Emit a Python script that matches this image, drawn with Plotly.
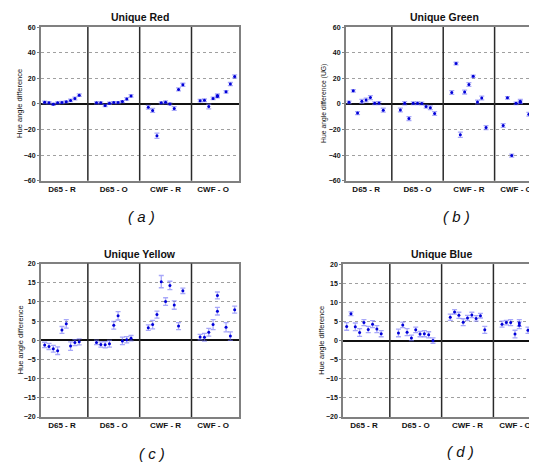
import plotly.graph_objects as go

# ---------------- data ----------------
GROUPS = ["D65 - R", "D65 - O", "CWF - R", "CWF - O"]
GROUP_TICKS = [4, 16, 28, 39]          # label positions on the index axis
GROUP_STEP = 12                         # index offset between groups
SLOTS = [
    [0, 1, 2, 3, 4, 5, 6, 7, 8],
    [0, 1, 2, 3, 4, 5, 6, 7, 8],
    [0, 1, 2, 3, 4, 5, 6, 7, 8],
    [0, 1, 2, 3, 4, 4, 6, 7, 8],
]
DIVIDERS = [10, 22, 34]

RED = [
    [1.2, 0.9, -0.3, 0.8, 1.1, 1.6, 2.7, 4.2, 6.8],
    [0.8, 0.8, -1.3, 0.5, 1.0, 1.0, 1.8, 3.9, 6.2],
    [-2.6, -5.1, -24.9, 0.8, 1.3, 0.0, -3.6, 11.3, 14.9],
    [2.5, 2.8, -2.1, 4.3, 6.6, 5.8, 9.4, 15.5, 21.4],
]
RED_ERR = [
    [1.0, 0.8, 0.8, 0.8, 0.8, 0.8, 1.0, 1.0, 1.0],
    [0.8, 0.8, 0.8, 0.8, 0.8, 0.8, 0.8, 1.0, 1.0],
    [1.5, 1.5, 2.0, 0.8, 1.0, 0.8, 1.5, 1.2, 1.2],
    [1.0, 1.0, 1.8, 1.0, 1.2, 1.0, 1.0, 1.2, 1.2],
]
GREEN = [
    [1.2, 10.2, -7.2, 2.0, 3.0, 4.9, 0.5, 0.6, -4.9],
    [-4.8, 0.5, -11.5, 0.5, 0.5, 0.3, -2.1, -3.0, -7.5],
    [8.9, 31.5, -24.1, 9.2, 15.1, 21.5, 1.5, 4.6, -18.5],
    [-16.9, 4.7, -40.4, 0.4, 1.3, 2.0, -8.1, -10.5, -30.5],
]
GREEN_ERR = [
    [1.0, 1.0, 1.2, 1.5, 1.5, 1.5, 1.0, 1.2, 1.5],
    [1.5, 1.2, 1.5, 1.0, 1.0, 1.0, 1.2, 1.5, 1.5],
    [1.5, 1.0, 2.0, 1.5, 1.5, 1.0, 1.5, 1.5, 1.5],
    [1.5, 1.0, 1.2, 1.0, 1.0, 1.5, 1.5, 1.5, 2.0],
]
YELLOW = [
    [-1.2, -1.6, -2.2, -2.7, 2.7, 4.3, -1.5, -0.6, -0.4],
    [-0.55, -1.1, -1.15, -0.9, 3.9, 6.4, -0.15, 0.15, 0.55],
    [3.3, 4.1, 6.7, 15.3, 10.1, 14.3, 9.2, 3.7, 12.9],
    [0.85, 0.8, 2.1, 4.1, 11.7, 7.6, 3.4, 1.1, 8.0],
]
YELLOW_ERR = [
    [0.7, 0.8, 0.9, 1.0, 0.9, 1.1, 1.1, 0.8, 0.8],
    [0.6, 0.7, 0.8, 0.9, 1.0, 1.1, 1.0, 0.8, 0.7],
    [0.7, 1.1, 0.9, 1.6, 1.0, 1.1, 1.1, 0.9, 0.7],
    [0.7, 1.0, 1.0, 1.3, 0.9, 1.0, 1.2, 1.1, 0.9],
]
BLUE = [
    [3.7, 7.0, 3.6, 2.1, 4.7, 2.9, 4.3, 3.0, 1.8],
    [2.0, 4.1, 2.2, 0.7, 2.8, 1.7, 1.8, 1.5, 0.0],
    [6.1, 7.5, 6.6, 4.8, 5.9, 6.7, 5.8, 6.5, 2.8],
    [4.3, 4.7, 4.7, 1.7, 4.6, 4.0, 2.7, 4.3, -0.9],
]
BLUE_ERR = [
    [1.0, 0.5, 1.0, 1.0, 0.8, 0.8, 0.9, 0.9, 0.8],
    [1.0, 0.7, 0.9, 0.7, 0.7, 0.7, 0.8, 0.8, 0.7],
    [0.8, 0.6, 0.8, 0.9, 0.7, 0.7, 0.7, 0.6, 0.9],
    [0.8, 0.6, 0.8, 1.0, 0.9, 0.9, 0.8, 0.8, 0.8],
]

TITLES = ["Unique Red", "Unique Green", "Unique Yellow", "Unique Blue"]
YTITLES = ["Hue angle difference", "Hue angle difference (UG)",
           "Hue angle difference", "Hue angle difference"]
LABELS = ["( a )", "( b )", "( c )", "( d )"]
Y_TICKS_60 = [-60, -40, -20, 0, 20, 40, 60]
Y_TICKS_20 = [-20, -15, -10, -5, 0, 5, 10, 15, 20]

# ---------------- layout geometry (window pixels) ----------------
WIN_W, WIN_H = 537, 467
OFF = 8                       # default page body margin
W, H = WIN_W - OFF, WIN_H - OFF
FONT = "Liberation Sans, Arial, sans-serif"


def px_x(v):
    return (v - OFF) / W


def px_y(v):
    return 1 - (v - OFF) / H


panels = [
    dict(vals=RED, err=RED_ERR, left=40.7, right=239.0, top=23.3, bottom=179.3,
         xr=[-0.92, 45.0], yr=[-60, 60], ticks=Y_TICKS_60, mirror=True,
         tx=139.8, ty=13, ytx=20, ysize=7.5, lx=141, ly=216),
    dict(vals=GREEN, err=GREEN_ERR, left=345.7, right=537.0, top=23.3, bottom=179.3,
         xr=[-0.77, 43.9], yr=[-60, 60], ticks=Y_TICKS_60, mirror=False,
         tx=444.5, ty=13, ytx=324, ysize=6.8, lx=456, ly=216),
    dict(vals=YELLOW, err=YELLOW_ERR, left=40.7, right=239.0, top=263.5, bottom=419.3,
         xr=[-0.92, 45.0], yr=[-20, 20], ticks=Y_TICKS_20, mirror=True,
         tx=139.8, ty=253.5, ytx=20, ysize=7.5, lx=152, ly=456),
    dict(vals=BLUE, err=BLUE_ERR, left=343.0, right=537.0, top=264.0, bottom=419.3,
         xr=[-0.85, 44.1], yr=[-20, 20], ticks=Y_TICKS_20, mirror=False,
         tx=441, ty=253.5, ytx=321.3, ysize=7.5, lx=460.5, ly=454),
]

fig = go.Figure()
annotations = []
shapes = []

for k, p in enumerate(panels):
    n = "" if k == 0 else str(k + 1)
    xs, ys, es = [], [], []
    for g in range(4):
        for s, v, e in zip(SLOTS[g], p["vals"][g], p["err"][g]):
            xs.append(GROUP_STEP * g + s)
            ys.append(v)
            es.append(e)
    fig.add_trace(go.Scatter(
        x=xs, y=ys, mode="markers", xaxis="x" + n, yaxis="y" + n,
        marker=dict(symbol="circle", size=3, color="#0000d8"),
        error_y=dict(type="data", array=es, visible=True,
                     color="rgba(110,110,245,0.6)", thickness=1.3, width=2.5),
        showlegend=False, cliponaxis=True,
    ))
    xd = [max(0, px_x(p["left"])), min(1, px_x(p["right"]))]
    yd = [px_y(p["bottom"]), px_y(p["top"])]
    fig.layout["xaxis" + n] = dict(
        domain=xd, range=p["xr"], anchor="y" + n,
        tickvals=GROUP_TICKS, ticktext=GROUPS, ticks="",
        tickfont=dict(family=FONT, size=8, color="#111", weight="bold"),
        showgrid=False, zeroline=False,
        showline=True, linecolor="#808080", linewidth=1.5, mirror=True,
        fixedrange=True,
    )
    fig.layout["yaxis" + n] = dict(
        domain=yd, range=p["yr"], anchor="x" + n,
        tickvals=p["ticks"], ticks="outside", ticklen=2, tickcolor="#808080",
        tickfont=dict(family=FONT, size=7, color="#111", weight="bold"),
        showgrid=True, gridcolor="#a0a0a0", griddash="dot", gridwidth=1,
        zeroline=True, zerolinecolor="#111", zerolinewidth=2,
        showline=True, linecolor="#808080", linewidth=1.5, mirror=p["mirror"],
        fixedrange=True,
    )
    for d in DIVIDERS:
        shapes.append(dict(type="line", xref="x" + n, yref="y" + n + " domain",
                           x0=d, x1=d, y0=0, y1=1,
                           line=dict(color="#2a2a2a", width=1.5)))
    annotations.append(dict(text="<b>%s</b>" % TITLES[k], xref="paper", yref="paper",
                            x=px_x(p["tx"]), y=px_y(p["ty"]), showarrow=False,
                            xanchor="center", yanchor="middle",
                            font=dict(family=FONT, size=10.5, color="#111")))
    annotations.append(dict(text=YTITLES[k], xref="paper", yref="paper",
                            x=px_x(p["ytx"]), y=px_y((p["top"] + p["bottom"]) / 2),
                            showarrow=False, textangle=-90,
                            xanchor="center", yanchor="middle",
                            font=dict(family=FONT, size=p["ysize"], color="#111")))
    annotations.append(dict(text="<i>%s</i>" % LABELS[k], xref="paper", yref="paper",
                            x=px_x(p["lx"]), y=px_y(p["ly"]), showarrow=False,
                            xanchor="center", yanchor="middle",
                            font=dict(family=FONT, size=15, color="#111")))

fig.update_layout(
    width=W, height=H, margin=dict(l=0, r=0, t=0, b=0),
    paper_bgcolor="white", plot_bgcolor="white",
    annotations=annotations, shapes=shapes,
)

fig.write_html("out.html")
